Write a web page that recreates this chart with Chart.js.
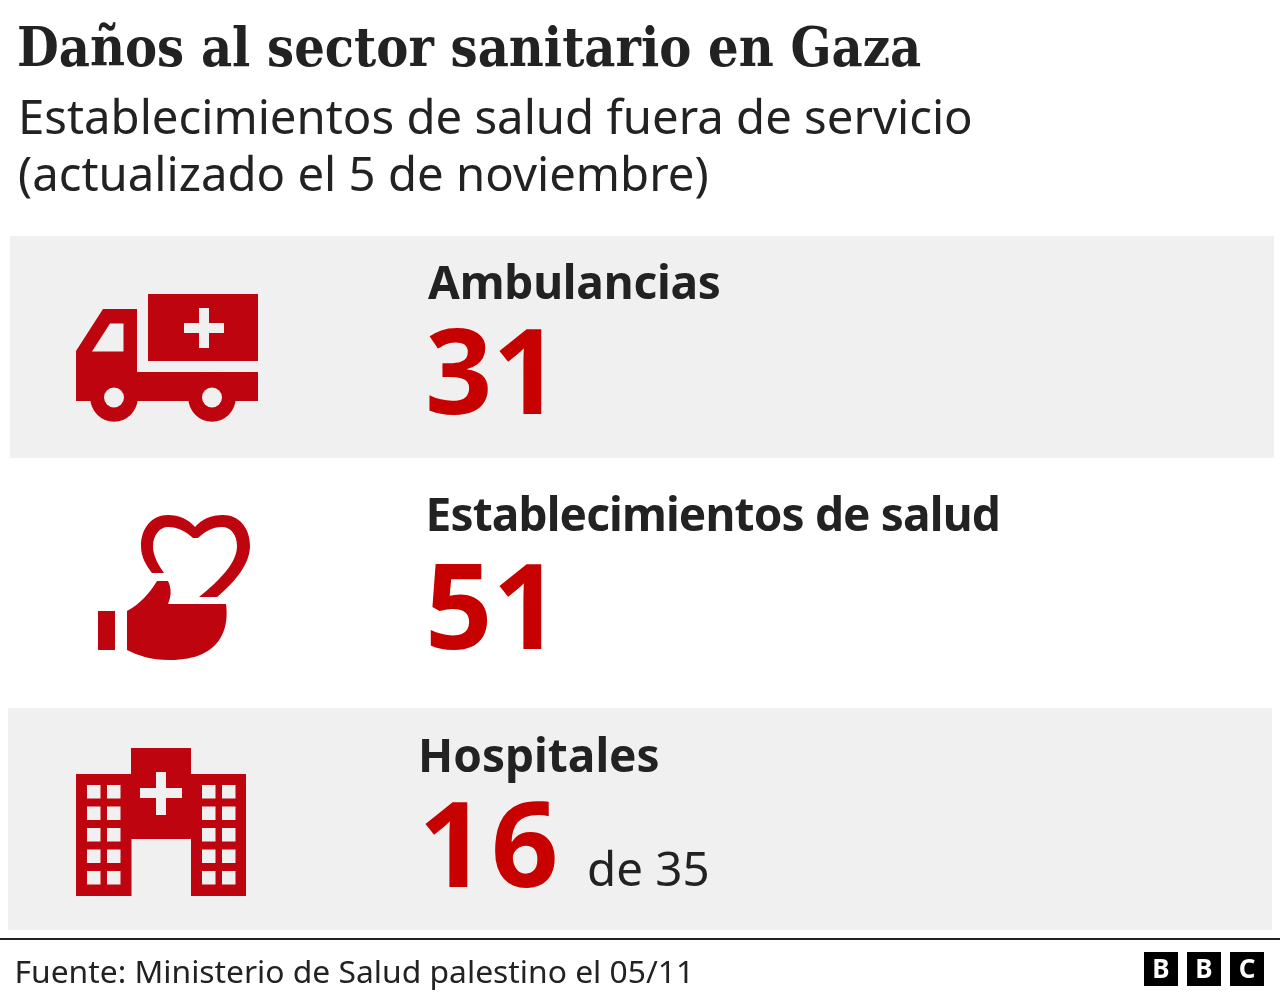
<!DOCTYPE html>
<html><head><meta charset="utf-8"><title>Daños al sector sanitario en Gaza</title>
<style>html,body{margin:0;padding:0;background:#fff}canvas{display:block}</style>
<script src="https://cdn.jsdelivr.net/npm/chart.js@4/dist/chart.umd.min.js"></script>
</head><body><canvas id="c" width="1280" height="1000"></canvas>
<script>
const titleText = "Daños al sector sanitario en Gaza";
const subtitleLines = ["Establecimientos de salud fuera de servicio", "(actualizado el 5 de noviembre)"];
const categories = ["Ambulancias", "Establecimientos de salud", "Hospitales"];
const values = [31, 51, 16];
const valueSuffixes = ["", "", "de 35"];
const sourceText = "Fuente: Ministerio de Salud palestino el 05/11";
const logoLetters = ["B", "B", "C"];

const RED = "#be040e", NUM = "#c70000", INK = "#222222", PANEL = "#f0f0f0";
const SANS = '"Noto Sans"';

function poly(ctx, pts){ pts.forEach((p,i)=> i?ctx.lineTo(p[0],p[1]):ctx.moveTo(p[0],p[1])); ctx.closePath(); }
function truck(ctx, bg){
  ctx.fillStyle = RED;
  ctx.fillRect(148,294,110,67);
  ctx.beginPath(); poly(ctx,[[76,351],[103,309],[137,309],[137,372],[258,372],[258,401],[76,401]]); ctx.fill();
  ctx.beginPath(); ctx.arc(114,398,23.7,0,Math.PI*2); ctx.fill();
  ctx.beginPath(); ctx.arc(212,398,23.7,0,Math.PI*2); ctx.fill();
  ctx.fillStyle = bg;
  ctx.fillRect(184,323,40,10); ctx.fillRect(199,308,10,40);
  ctx.beginPath(); poly(ctx,[[92,351.5],[110,323.5],[123.5,323.5],[123.5,351.5]]); ctx.fill();
  ctx.beginPath(); ctx.arc(114,397.5,10,0,Math.PI*2); ctx.fill();
  ctx.beginPath(); ctx.arc(212,397.5,10,0,Math.PI*2); ctx.fill();
}
function heartHand(ctx){
  ctx.fillStyle = RED;
  ctx.beginPath();
  ctx.moveTo(152,573);
  ctx.bezierCurveTo(146,565,141,557,141,546);
  ctx.bezierCurveTo(141,528,152,515,168,515);
  ctx.bezierCurveTo(179,515,188,519,195,527);
  ctx.bezierCurveTo(202,519,211,515,223,515);
  ctx.bezierCurveTo(239,515,250,528,250,546);
  ctx.bezierCurveTo(250,564,235,582,217,597);
  ctx.lineTo(199,597);
  ctx.bezierCurveTo(219,581,237,563,237,546);
  ctx.bezierCurveTo(237,535,231,527,222,527);
  ctx.bezierCurveTo(212,527,206,531,198,538);
  ctx.lineTo(193,538);
  ctx.bezierCurveTo(185,531,178,527,168,527);
  ctx.bezierCurveTo(160,527,153,535,153,546);
  ctx.bezierCurveTo(153,556,158,564,164,573);
  ctx.closePath(); ctx.fill();
  ctx.beginPath();
  ctx.moveTo(127,611);
  ctx.bezierCurveTo(140,604,149,594,157,581);
  ctx.lineTo(168,581);
  ctx.bezierCurveTo(172,589,171,597,168,604);
  ctx.lineTo(226,604);
  ctx.bezierCurveTo(229,625,224,660,170,660);
  ctx.bezierCurveTo(150,660,137,655,127,650);
  ctx.closePath(); ctx.fill();
  ctx.fillRect(98,611,17,39);
}
function hospital(ctx, bg){
  ctx.fillStyle = RED;
  ctx.fillRect(76,774,170,122);
  ctx.fillRect(131,748,60,30);
  ctx.fillStyle = bg;
  ctx.fillRect(131.5,839,59.5,57);
  ctx.fillRect(140,788,42,10); ctx.fillRect(156,772,10,43);
  [87,107,202,222].forEach(x=>{ for(let r=0;r<5;r++) ctx.fillRect(x,785+r*21.5,13.5,13.5); });
}

const iconPainters = [truck, heartHand, hospital];

const gazaPlugin = {
  id: "gazaPanels",
  beforeDatasetsDraw(chart){
    const ctx = chart.ctx, y = chart.scales.y;
    ctx.save();
    ctx.fillStyle = "#fff"; ctx.fillRect(0,0,1280,1000);
    ctx.fillStyle = PANEL;
    const h = 222;
    [10,null,8].forEach((x,i)=>{
      if(x===null) return;
      ctx.fillRect(x, y.getPixelForValue(i)-h/2, 1264, h);
    });
    ctx.restore();
  },
  afterDatasetsDraw(chart){
    const ctx = chart.ctx, y = chart.scales.y;
    ctx.save();
    ctx.textAlign = "left"; ctx.textBaseline = "alphabetic";
    ctx.fillStyle = INK;
    ctx.font = 'bold 53.5px "DejaVu Serif Condensed"';
    ctx.fillText(titleText, 17, 66);
    ctx.font = '47.3px '+SANS;
    ctx.fillText(subtitleLines[0], 18, 134);
    ctx.fillText(subtitleLines[1], 18, 191);

    const labelX=[428,425.5,418], labelDy=[-48,-52,-47], labelSp=[-0.2,-0.85,0];
    const valX=[425,425,418.5], valBase=[414,649,887], valSp=[0,0,5];
    categories.forEach((c,i)=>{
      const cy = y.getPixelForValue(i);
      iconPainters[i](ctx, i===1?"#fff":PANEL);
      ctx.fillStyle = INK;
      ctx.font = 'bold 46px '+SANS;
      ctx.letterSpacing = labelSp[i]+"px";
      ctx.fillText(c, labelX[i], cy+labelDy[i]);
      ctx.letterSpacing = valSp[i]+"px";
      ctx.fillStyle = NUM;
      ctx.font = 'bold 118px '+SANS;
      ctx.fillText(String(values[i]), valX[i], valBase[i]);
      ctx.letterSpacing = "0px";
      if(valueSuffixes[i]){
        ctx.fillStyle = INK;
        ctx.font = '47.5px '+SANS;
        ctx.fillText(valueSuffixes[i], 587, 886);
      }
    });

    ctx.fillStyle = INK;
    ctx.fillRect(0,938,1280,2);
    ctx.font = '31.8px '+SANS;
    ctx.fillText(sourceText, 14.5, 983);
    const logoX=[1144,1187,1230];
    logoLetters.forEach((l,i)=>{
      ctx.fillStyle="#000"; ctx.fillRect(logoX[i],952,34,34);
      ctx.fillStyle="#fff"; ctx.font='bold 26px '+SANS; ctx.textAlign="center";
      ctx.fillText(l, logoX[i]+17, 978);
    });
    ctx.restore();
  }
};

new Chart(document.getElementById("c"), {
  type: "bar",
  data: { labels: categories, datasets: [{ label: "Fuera de servicio", data: values, backgroundColor: "transparent", borderWidth: 0 }] },
  options: {
    indexAxis: "y",
    responsive: false,
    animation: false,
    devicePixelRatio: 1,
    layout: { padding: { top: 229, bottom: 63, left: 0, right: 0 } },
    plugins: { legend: { display: false }, title: { display: false }, tooltip: { enabled: false } },
    scales: {
      x: { display: false, min: 0, max: 100 },
      y: { display: false }
    }
  },
  plugins: [gazaPlugin]
});
</script></body></html>
